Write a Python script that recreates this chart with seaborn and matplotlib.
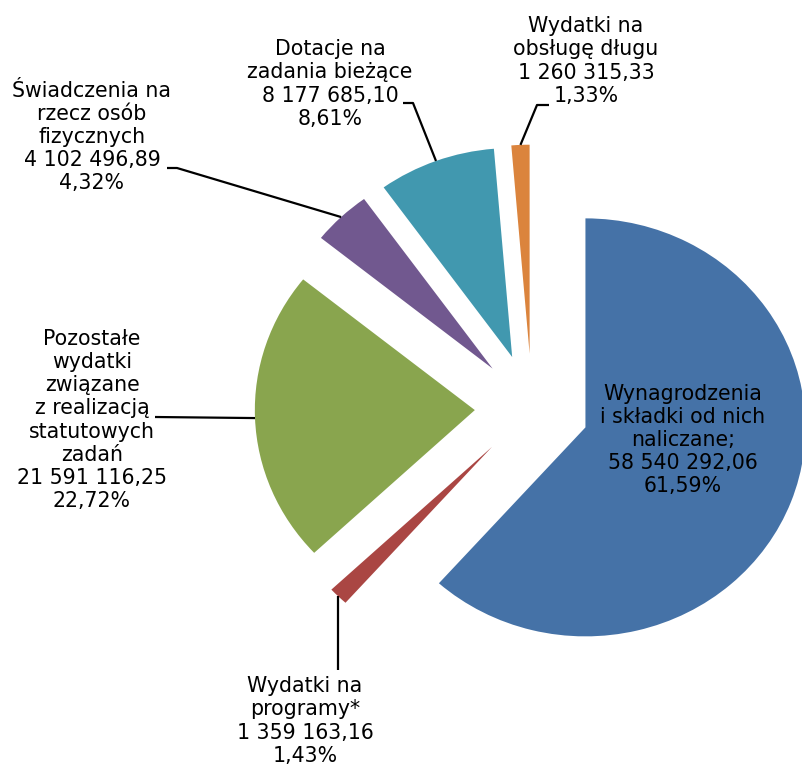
import numpy as np
import seaborn as sns
import matplotlib
matplotlib.use("Agg")
from matplotlib import pyplot as plt

# data (clockwise from 12 o'clock, same order as the original chart)
categories = [
    "Wynagrodzenia\ni składki od nich\nnaliczane;",
    "Wydatki na\nprogramy*",
    "Pozostałe\nwydatki\nzwiązane\nz realizacją\nstatutowych\nzadań",
    "Świadczenia na\nrzecz osób\nfizycznych",
    "Dotacje na\nzadania bieżące",
    "Wydatki na\nobsługę długu",
]
values = [58540292.06, 1359163.16, 21591116.25, 4102496.89, 8177685.10, 1260315.33]
percents = [61.59, 1.43, 22.72, 4.32, 8.61, 1.33]
colors = ["#4572A7", "#AA4643", "#89A54E", "#71588F", "#4198AF", "#DB843D"]

# layout (pixels of the 802x767 picture)
W, H = 802, 767
CX, CY = 532, 408      # pie centre
RX, RY = 220, 209      # radius in px, slightly wider than tall
label_pos = [(683, 440), (305, 721), (92, 420), (92, 137), (330, 84), (586, 61)]
# leader lines: points from the label towards the wedge (None = no line)
leaders = [
    None,
    "down",
    [(155, 417)],
    [(167, 168), (177, 168)],
    [(403, 103), (413, 103)],
    [(549, 105), (537, 105)],
]


def px(x, y):
    return (x - CX) / RX, (CY - y) / RY


def pl_num(v):
    return f"{v:,.2f}".replace(",", " ").replace(".", ",")


sns.set_theme(style="white")
plt.rcParams["font.family"] = ["DejaVu Sans"]

fig = plt.figure(figsize=(W / 100, H / 100), dpi=100)
ax = fig.add_axes([0, 0, 1, 1])

wedges, _ = ax.pie(values, explode=[0.26] * len(values),
                   colors=sns.color_palette(colors), startangle=90,
                   counterclock=False, radius=1,
                   wedgeprops=dict(linewidth=0))
ax.set_aspect("auto")
ax.set_xlim(-CX / RX, (W - CX) / RX)
ax.set_ylim((CY - H) / RY, CY / RY)
ax.axis("off")

for w, cat, v, p, pos, lead in zip(wedges, categories, values, percents,
                                    label_pos, leaders):
    txt = f"{cat}\n{pl_num(v)}\n{p:.2f}%".replace(".", ",")
    tx, ty = px(*pos)
    ax.text(tx, ty, txt, ha="center", va="center", multialignment="center",
            fontsize=14.8, color="black", linespacing=1.2)
    if lead is None:
        continue
    mid = np.deg2rad((w.theta1 + w.theta2) / 2)
    wx = w.center[0] + w.r * np.cos(mid)
    wy = w.center[1] + w.r * np.sin(mid)
    if lead == "down":
        xs = [wx, wx]
        ys = [wy, px(0, 670)[1]]
    else:
        pts = [px(*q) for q in lead]
        xs = [q[0] for q in pts] + [wx]
        ys = [q[1] for q in pts] + [wy]
    ax.plot(xs, ys, color="black", lw=1.6, solid_capstyle="butt")

fig.savefig("out.png", dpi=100, facecolor="white")
